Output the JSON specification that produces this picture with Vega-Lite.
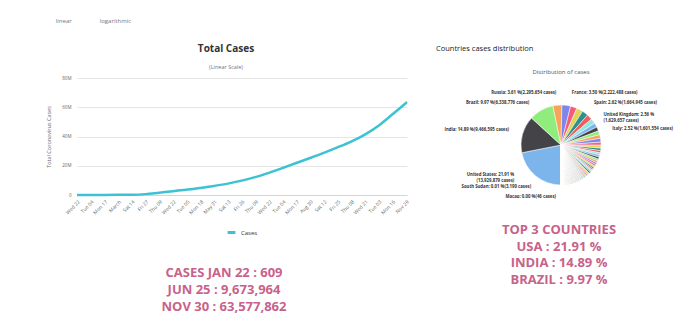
{
  "$schema": "https://vega.github.io/schema/vega-lite/v6.json",
  "padding": {"left": 46, "top": 17, "right": 0, "bottom": 0},
  "background": "white",
  "config": {"view": {"stroke": null}, "font": "Open Sans", "legend": {"layout": {"bottom": {"anchor": "middle"}}}},
  "spacing": 24,
  "resolve": {"scale": {"color": "independent"}, "legend": {"color": "independent"}},
  "datasets": {
    "cases": [
      {"date": "2020-01-22", "cases": 609},
      {"date": "2020-02-04", "cases": 24554},
      {"date": "2020-02-17", "cases": 73332},
      {"date": "2020-03-01", "cases": 88369},
      {"date": "2020-03-14", "cases": 156653},
      {"date": "2020-03-27", "cases": 596723},
      {"date": "2020-04-09", "cases": 1603720},
      {"date": "2020-04-22", "cases": 2639580},
      {"date": "2020-05-05", "cases": 3662691},
      {"date": "2020-05-18", "cases": 4801943},
      {"date": "2020-05-31", "cases": 6183560},
      {"date": "2020-06-13", "cases": 7784030},
      {"date": "2020-06-25", "cases": 9673964},
      {"date": "2020-07-09", "cases": 12219850},
      {"date": "2020-07-22", "cases": 15163890},
      {"date": "2020-08-04", "cases": 18446730},
      {"date": "2020-08-17", "cases": 21894130},
      {"date": "2020-08-30", "cases": 25271880},
      {"date": "2020-09-12", "cases": 28780400},
      {"date": "2020-09-25", "cases": 32550130},
      {"date": "2020-10-08", "cases": 36567820},
      {"date": "2020-10-21", "cases": 41330700},
      {"date": "2020-11-03", "cases": 47395080},
      {"date": "2020-11-16", "cases": 54996550},
      {"date": "2020-11-29", "cases": 62949080},
      {"date": "2020-11-30", "cases": 63577862}
    ],
    "countries": [
      {"country": "United States", "cases": 13929879, "label": "United States: 21.91 %|(13,929,879 cases)"},
      {"country": "India", "cases": 9466595, "label": "India: 14.89 %(9,466,595 cases)"},
      {"country": "Brazil", "cases": 6338776, "label": "Brazil: 9.97 %(6,338,776 cases)"},
      {"country": "Russia", "cases": 2295654, "label": "Russia: 3.61 %(2,295,654 cases)"},
      {"country": "France", "cases": 2222488, "label": "France: 3.50 %(2,222,488 cases)"},
      {"country": "Spain", "cases": 1664945, "label": "Spain: 2.62 %(1,664,945 cases)"},
      {"country": "United Kingdom", "cases": 1629657, "label": "United Kingdom: 2.56 %|(1,629,657 cases)"},
      {"country": "Italy", "cases": 1601554, "label": "Italy: 2.52 %(1,601,554 cases)"},
      {"country": "Argentina", "cases": 1424533},
      {"country": "Colombia", "cases": 1308376},
      {"country": "Mexico", "cases": 1107071},
      {"country": "Germany", "cases": 1067473},
      {"country": "Poland", "cases": 990811},
      {"country": "Peru", "cases": 962530},
      {"country": "Iran", "cases": 962070},
      {"country": "South Africa", "cases": 790004},
      {"country": "Ukraine", "cases": 732625},
      {"country": "Turkey", "cases": 647000},
      {"country": "Belgium", "cases": 577345},
      {"country": "Iraq", "cases": 553690},
      {"country": "Chile", "cases": 553000},
      {"country": "Indonesia", "cases": 538883},
      {"country": "Czechia", "cases": 529755},
      {"country": "Netherlands", "cases": 527870},
      {"country": "Romania", "cases": 470257},
      {"country": "Bangladesh", "cases": 464932},
      {"country": "Philippines", "cases": 432925},
      {"country": "Pakistan", "cases": 400482},
      {"country": "Canada", "cases": 377514},
      {"country": "Saudi Arabia", "cases": 357360},
      {"country": "Morocco", "cases": 356135},
      {"country": "Israel", "cases": 335347},
      {"country": "Switzerland", "cases": 322977},
      {"country": "Portugal", "cases": 303846},
      {"country": "Austria", "cases": 280146},
      {"country": "Sweden", "cases": 243129},
      {"country": "Nepal", "cases": 233452},
      {"country": "Hungary", "cases": 214468},
      {"country": "Jordan", "cases": 213749},
      {"country": "Serbia", "cases": 210049},
      {"country": "Ecuador", "cases": 190430},
      {"country": "UAE", "cases": 166104},
      {"country": "Panama", "cases": 164745},
      {"country": "Bulgaria", "cases": 152344},
      {"country": "Japan", "cases": 147029},
      {"country": "Kazakhstan", "cases": 146107},
      {"country": "Bolivia", "cases": 144303},
      {"country": "Dominican Republic", "cases": 144016},
      {"country": "Kuwait", "cases": 143574},
      {"country": "Qatar", "cases": 139521},
      {"country": "Costa Rica", "cases": 138406},
      {"country": "Belarus", "cases": 138240},
      {"country": "Armenia", "cases": 136466},
      {"country": "Croatia", "cases": 135784},
      {"country": "Lebanon", "cases": 125776},
      {"country": "Azerbaijan", "cases": 124426},
      {"country": "Oman", "cases": 123804},
      {"country": "Guatemala", "cases": 122616},
      {"country": "Egypt", "cases": 116303},
      {"country": "Georgia", "cases": 115437},
      {"country": "Ethiopia", "cases": 110071},
      {"country": "Slovakia", "cases": 108916},
      {"country": "Moldova", "cases": 108402},
      {"country": "Greece", "cases": 108287},
      {"country": "Honduras", "cases": 107562},
      {"country": "Venezuela", "cases": 102297},
      {"country": "Tunisia", "cases": 101611},
      {"country": "Palestine", "cases": 98001},
      {"country": "Libya", "cases": 90014},
      {"country": "Myanmar", "cases": 88212},
      {"country": "Bosnia and Herzegovina", "cases": 87928},
      {"country": "Bahrain", "cases": 87297},
      {"country": "China", "cases": 86530},
      {"country": "Algeria", "cases": 83199},
      {"country": "Paraguay", "cases": 83164},
      {"country": "Kenya", "cases": 82605},
      {"country": "Denmark", "cases": 80481},
      {"country": "Slovenia", "cases": 77426},
      {"country": "Kyrgyzstan", "cases": 74016},
      {"country": "Uzbekistan", "cases": 72669},
      {"country": "Ireland", "cases": 72241},
      {"country": "Nigeria", "cases": 67412},
      {"country": "Malaysia", "cases": 65697},
      {"country": "Lithuania", "cases": 61175},
      {"country": "North Macedonia", "cases": 60713},
      {"country": "Singapore", "cases": 58218},
      {"country": "Ghana", "cases": 51667},
      {"country": "Afghanistan", "cases": 46516},
      {"country": "El Salvador", "cases": 39532},
      {"country": "Kosovo", "cases": 38466},
      {"country": "Albania", "cases": 37625},
      {"country": "Norway", "cases": 36206},
      {"country": "Luxembourg", "cases": 35806},
      {"country": "Montenegro", "cases": 35003},
      {"country": "South Korea", "cases": 34652},
      {"country": "Australia", "cases": 27916},
      {"country": "Finland", "cases": 25134},
      {"country": "Cameroon", "cases": 24752},
      {"country": "Sri Lanka", "cases": 23987},
      {"country": "Ivory Coast", "cases": 21326},
      {"country": "Uganda", "cases": 19944},
      {"country": "Zambia", "cases": 17700},
      {"country": "Sudan", "cases": 17596},
      {"country": "Madagascar", "cases": 17341},
      {"country": "Senegal", "cases": 16089},
      {"country": "Mozambique", "cases": 15449},
      {"country": "Angola", "cases": 15087},
      {"country": "Namibia", "cases": 14170},
      {"country": "DR Congo", "cases": 13307},
      {"country": "Guinea", "cases": 13241},
      {"country": "Latvia", "cases": 12428},
      {"country": "Tajikistan", "cases": 12264},
      {"country": "Botswana", "cases": 12058},
      {"country": "Estonia", "cases": 12001},
      {"country": "Cyprus", "cases": 11432},
      {"country": "Cape Verde", "cases": 11045},
      {"country": "Jamaica", "cases": 10792},
      {"country": "Malta", "cases": 10381},
      {"country": "Zimbabwe", "cases": 10129},
      {"country": "Haiti", "cases": 9285},
      {"country": "Gabon", "cases": 9173},
      {"country": "Syria", "cases": 8305},
      {"country": "Cuba", "cases": 8075},
      {"country": "Mauritania", "cases": 8061},
      {"country": "Bahamas", "cases": 7451},
      {"country": "Trinidad and Tobago", "cases": 6926},
      {"country": "Andorra", "cases": 6712},
      {"country": "Eswatini", "cases": 6373},
      {"country": "Rwanda", "cases": 6039},
      {"country": "Malawi", "cases": 6027},
      {"country": "Uruguay", "cases": 5958},
      {"country": "Djibouti", "cases": 5676},
      {"country": "Iceland", "cases": 5409},
      {"country": "Belize", "cases": 5327},
      {"country": "Suriname", "cases": 5322},
      {"country": "Guyana", "cases": 5296},
      {"country": "Equatorial Guinea", "cases": 5153},
      {"country": "Aruba", "cases": 4948},
      {"country": "Central African Republic", "cases": 4914},
      {"country": "Mali", "cases": 4710},
      {"country": "Somalia", "cases": 4451},
      {"country": "Thailand", "cases": 4001},
      {"country": "Gambia", "cases": 3740},
      {"country": "South Sudan", "cases": 3190, "label": "South Sudan: 0.01 %(3,190 cases)"},
      {"country": "Benin", "cases": 3001},
      {"country": "Burkina Faso", "cases": 2934},
      {"country": "Togo", "cases": 2889},
      {"country": "Sierra Leone", "cases": 2407},
      {"country": "Lesotho", "cases": 2112},
      {"country": "Yemen", "cases": 2107},
      {"country": "New Zealand", "cases": 2053},
      {"country": "San Marino", "cases": 1729},
      {"country": "Chad", "cases": 1699},
      {"country": "Niger", "cases": 1603},
      {"country": "Liberia", "cases": 1598},
      {"country": "Vietnam", "cases": 1347},
      {"country": "Mongolia", "cases": 850},
      {"country": "Burundi", "cases": 689},
      {"country": "Taiwan", "cases": 675},
      {"country": "Comoros", "cases": 611},
      {"country": "Eritrea", "cases": 572},
      {"country": "Bhutan", "cases": 418},
      {"country": "Cambodia", "cases": 323},
      {"country": "Brunei", "cases": 150},
      {"country": "Macao", "cases": 46, "label": "Macao: 0.00 %(46 cases)"}
    ],
    "leftText": [
      {"line": 1, "text": "CASES JAN 22 : 609"},
      {"line": 2, "text": "JUN 25 : 9,673,964"},
      {"line": 3, "text": "NOV 30 : 63,577,862"}
    ],
    "rightText": [
      {"line": 1, "text": "TOP 3 COUNTRIES"},
      {"line": 2, "text": "USA : 21.91 %"},
      {"line": 3, "text": "INDIA : 14.89 %"},
      {"line": 4, "text": "BRAZIL : 9.97 %"}
    ]
  },
  "hconcat": [
    {
      "title": {"text": "linear\u00a0\u00a0\u00a0\u00a0\u00a0\u00a0\u00a0\u00a0\u00a0\u00a0\u00a0\u00a0\u00a0\u00a0\u00a0\u00a0\u00a0\u00a0logarithmic", "anchor": "start", "fontSize": 6, "fontWeight": "normal", "color": "#777", "dx": 9, "offset": 20},
      "spacing": 26,
      "resolve": {"scale": {"color": "independent"}, "legend": {"color": "independent"}},
      "vconcat": [
        {
          "width": 330,
          "height": 117,
          "data": {"name": "cases"},
          "title": {"text": "Total Cases", "subtitle": "(Linear Scale)", "fontSize": 10, "fontWeight": "bold", "color": "#333", "subtitleFontSize": 5.5, "subtitleColor": "#777", "subtitlePadding": 11, "offset": 5, "dx": -16},
          "mark": {"type": "line", "strokeWidth": 2.5, "interpolate": "monotone"},
          "encoding": {
            "x": {
              "field": "date", "type": "temporal",
              "scale": {"type": "utc", "domain": [{"year": 2020, "month": 1, "date": 22, "utc": true}, {"year": 2020, "month": 11, "date": 30, "utc": true}]},
              "axis": {
                "title": null, "format": "%b %d", "formatType": "utc", "labelAngle": -45, "labelFontSize": 5, "labelColor": "#666", "labelOverlap": false,
                "grid": false, "ticks": false, "domainColor": "#ccd6eb", "labelPadding": 4,
                "values": [
                  {"year": 2020, "month": 1, "date": 22, "utc": true},
                  {"year": 2020, "month": 2, "date": 4, "utc": true},
                  {"year": 2020, "month": 2, "date": 17, "utc": true},
                  {"year": 2020, "month": 3, "date": 1, "utc": true},
                  {"year": 2020, "month": 3, "date": 14, "utc": true},
                  {"year": 2020, "month": 3, "date": 27, "utc": true},
                  {"year": 2020, "month": 4, "date": 9, "utc": true},
                  {"year": 2020, "month": 4, "date": 22, "utc": true},
                  {"year": 2020, "month": 5, "date": 5, "utc": true},
                  {"year": 2020, "month": 5, "date": 18, "utc": true},
                  {"year": 2020, "month": 5, "date": 31, "utc": true},
                  {"year": 2020, "month": 6, "date": 13, "utc": true},
                  {"year": 2020, "month": 6, "date": 26, "utc": true},
                  {"year": 2020, "month": 7, "date": 9, "utc": true},
                  {"year": 2020, "month": 7, "date": 22, "utc": true},
                  {"year": 2020, "month": 8, "date": 4, "utc": true},
                  {"year": 2020, "month": 8, "date": 17, "utc": true},
                  {"year": 2020, "month": 8, "date": 30, "utc": true},
                  {"year": 2020, "month": 9, "date": 12, "utc": true},
                  {"year": 2020, "month": 9, "date": 25, "utc": true},
                  {"year": 2020, "month": 10, "date": 8, "utc": true},
                  {"year": 2020, "month": 10, "date": 21, "utc": true},
                  {"year": 2020, "month": 11, "date": 3, "utc": true},
                  {"year": 2020, "month": 11, "date": 16, "utc": true},
                  {"year": 2020, "month": 11, "date": 29, "utc": true}
                ]
              }
            },
            "y": {
              "field": "cases", "type": "quantitative",
              "scale": {"domain": [0, 80000000]},
              "axis": {
                "title": "Total Coronavirus Cases", "titleFontSize": 5.5, "titleFontWeight": "normal", "titleColor": "#666", "titlePadding": 10,
                "values": [0, 20000000, 40000000, 60000000, 80000000],
                "labelExpr": "datum.value == 0 ? '0' : (datum.value / 1000000) + 'M'",
                "labelFontSize": 4.5, "labelColor": "#666", "labelPadding": 6,
                "domain": false, "ticks": false, "gridColor": "#e6e6e6"
              }
            },
            "color": {
              "datum": "Cases",
              "scale": {"range": ["#3cc2d2"]},
              "legend": {"orient": "bottom", "title": null, "symbolType": "stroke", "symbolStrokeWidth": 3, "symbolSize": 60, "labelFontSize": 6, "labelColor": "#333", "direction": "horizontal", "offset": 12}
            }
          }
        },
        {
          "width": 294,
          "height": 50,
          "data": {"name": "leftText"},
          "mark": {"type": "text", "font": "Open Sans", "fontWeight": "bold", "fontSize": 13, "color": "#c8628a"},
          "encoding": {
            "y": {"field": "line", "type": "ordinal", "axis": null, "scale": {"type": "point", "padding": 0.5}},
            "text": {"field": "text"}
          }
        }
      ]
    },
    {
      "title": {"text": "Countries cases distribution", "anchor": "start", "fontSize": 7.5, "fontWeight": "normal", "color": "#222", "offset": 17},
      "spacing": 0,
      "vconcat": [
        {
          "width": 250,
          "height": 134,
          "data": {"name": "countries"},
          "title": {"text": "Distribution of cases", "fontSize": 6, "fontWeight": "normal", "color": "#555", "offset": 3},
          "encoding": {
            "theta": {"field": "cases", "type": "quantitative", "stack": true, "scale": {"range": [3.14159265, 9.42477796]}},
            "order": {"field": "cases", "type": "quantitative", "sort": "descending"},
            "detail": {"field": "country", "type": "nominal"}
          },
          "layer": [
            {
              "mark": {"type": "arc", "outerRadius": 40, "stroke": "white", "strokeWidth": 0.5},
              "encoding": {
                "color": {"field": "country", "type": "nominal", "sort": {"field": "cases", "op": "sum", "order": "descending"}, "legend": null,
                  "scale": {"range": ["#7cb5ec", "#434348", "#90ed7d", "#f7a35c", "#8085e9", "#f15c80", "#e4d354", "#2b908f", "#f45b5b", "#91e8e1"]}}
              }
            },
            {
              "mark": {"type": "text", "radius": 50, "align": "right", "baseline": "middle", "fontSize": 4.3, "fontWeight": "bold", "color": "#333", "lineBreak": "|", "dx": -15, "dy": -9},
              "encoding": {"text": {"condition": {"test": "datum.country === 'United States'", "field": "label"}, "value": ""}}
            },
            {
              "mark": {"type": "text", "radius": 54, "align": "right", "baseline": "middle", "fontSize": 4.3, "fontWeight": "bold", "color": "#333", "dx": 0, "dy": 0},
              "encoding": {"text": {"condition": {"test": "datum.country === 'India'", "field": "label"}, "value": ""}}
            },
            {
              "mark": {"type": "text", "radius": 48, "align": "right", "baseline": "middle", "fontSize": 4.3, "fontWeight": "bold", "color": "#333", "dx": -8, "dy": 0},
              "encoding": {"text": {"condition": {"test": "datum.country === 'Brazil'", "field": "label"}, "value": ""}}
            },
            {
              "mark": {"type": "text", "radius": 52, "align": "right", "baseline": "middle", "fontSize": 4.3, "fontWeight": "bold", "color": "#333", "dx": 0, "dy": 0},
              "encoding": {"text": {"condition": {"test": "datum.country === 'Russia'", "field": "label"}, "value": ""}}
            },
            {
              "mark": {"type": "text", "radius": 52, "align": "left", "baseline": "middle", "fontSize": 4.3, "fontWeight": "bold", "color": "#333", "dx": 4, "dy": 0},
              "encoding": {"text": {"condition": {"test": "datum.country === 'France'", "field": "label"}, "value": ""}}
            },
            {
              "mark": {"type": "text", "radius": 50, "align": "left", "baseline": "middle", "fontSize": 4.3, "fontWeight": "bold", "color": "#333", "dx": 17, "dy": 5},
              "encoding": {"text": {"condition": {"test": "datum.country === 'Spain'", "field": "label"}, "value": ""}}
            },
            {
              "mark": {"type": "text", "radius": 48, "align": "left", "baseline": "middle", "fontSize": 4.3, "fontWeight": "bold", "color": "#333", "lineBreak": "|", "dx": 20, "dy": 12},
              "encoding": {"text": {"condition": {"test": "datum.country === 'United Kingdom'", "field": "label"}, "value": ""}}
            },
            {
              "mark": {"type": "text", "radius": 50, "align": "left", "baseline": "middle", "fontSize": 4.3, "fontWeight": "bold", "color": "#333", "dx": 21, "dy": 24},
              "encoding": {"text": {"condition": {"test": "datum.country === 'Italy'", "field": "label"}, "value": ""}}
            },
            {
              "mark": {"type": "text", "radius": 44, "align": "right", "baseline": "middle", "fontSize": 4.3, "fontWeight": "bold", "color": "#333", "dx": -30, "dy": -2},
              "encoding": {"text": {"condition": {"test": "datum.country === 'South Sudan'", "field": "label"}, "value": ""}}
            },
            {
              "mark": {"type": "text", "radius": 52, "align": "right", "baseline": "middle", "fontSize": 4.3, "fontWeight": "bold", "color": "#333", "dx": -5, "dy": 0},
              "encoding": {"text": {"condition": {"test": "datum.country === 'Macao'", "field": "label"}, "value": ""}}
            }
          ]
        },
        {
          "width": 246,
          "height": 66,
          "data": {"name": "rightText"},
          "mark": {"type": "text", "font": "Open Sans", "fontWeight": "bold", "fontSize": 13, "color": "#c8628a"},
          "encoding": {
            "y": {"field": "line", "type": "ordinal", "axis": null, "scale": {"type": "point", "padding": 0.5}},
            "text": {"field": "text"}
          }
        }
      ]
    }
  ]
}
